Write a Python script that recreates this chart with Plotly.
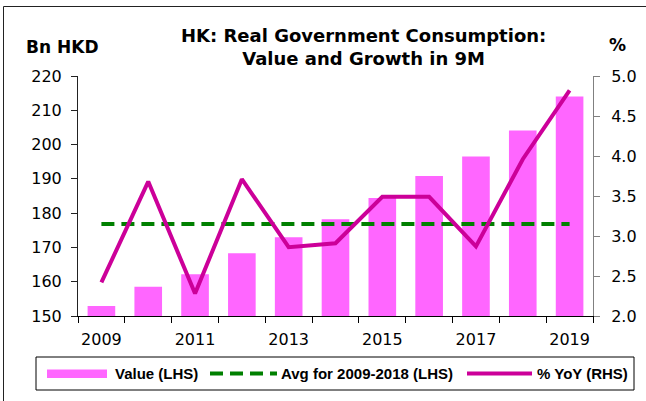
import plotly.graph_objects as go

years = [2009, 2010, 2011, 2012, 2013, 2014, 2015, 2016, 2017, 2018, 2019]
value_bn_hkd = [152.9, 158.5, 162.2, 168.3, 173.0, 178.2, 184.4, 190.8, 196.5, 204.1, 214.0]
avg_2009_2018 = [176.8] * 11
yoy_pct = [2.42, 3.68, 2.28, 3.71, 2.86, 2.91, 3.49, 3.49, 2.87, 3.96, 4.82]
xtick_labels = ["2009", "2011", "2013", "2015", "2017", "2019"]
series_names = ["Value (LHS)", "Avg for 2009-2018 (LHS)", "% YoY (RHS)"]

BAR_COLOR = "#FF66FF"
AVG_COLOR = "#008000"
YOY_COLOR = "#CC0099"
AVG_DASH = "13px,7px"

W, H = 646, 401
L, R, T, B = 78, 593, 76, 316

def px(x):
    return (x - L) / (R - L)

def py(y):
    return (B - y) / (B - T)

FONT = "DejaVu Sans"
LEG_FONT = "Liberation Sans"

fig = go.Figure()
fig.add_trace(go.Bar(
    x=years, y=value_bn_hkd, name=series_names[0], showlegend=False,
    marker=dict(color=BAR_COLOR, line=dict(width=0)),
))
fig.add_trace(go.Scatter(
    x=years, y=avg_2009_2018, name=series_names[1], mode="lines", showlegend=False,
    line=dict(color=AVG_COLOR, width=4, dash=AVG_DASH),
))
fig.add_trace(go.Scatter(
    x=years, y=yoy_pct, name=series_names[2], mode="lines", yaxis="y2", showlegend=False,
    line=dict(color=YOY_COLOR, width=4),
))

# legend (drawn as a boxed key below the plot)
leg_y = 373.5
shapes = [
    dict(type="rect", xref="paper", yref="paper", x0=px(36), x1=px(634), y0=py(357), y1=py(390),
         line=dict(color="black", width=1), fillcolor="white", layer="below"),
    dict(type="rect", xref="paper", yref="paper", x0=px(47), x1=px(107), y0=py(369.5), y1=py(378),
         line=dict(width=0), fillcolor=BAR_COLOR),
    dict(type="line", xref="paper", yref="paper", x0=px(210), x1=px(277), y0=py(leg_y), y1=py(leg_y),
         line=dict(color=AVG_COLOR, width=4, dash=AVG_DASH)),
    dict(type="line", xref="paper", yref="paper", x0=px(467), x1=px(532), y0=py(leg_y), y1=py(leg_y),
         line=dict(color=YOY_COLOR, width=4)),
    # outer frame
    dict(type="line", xref="paper", yref="paper", x0=px(3.5), x1=px(3.5), y0=py(6.5), y1=py(401),
         line=dict(color="#222222", width=1)),
    dict(type="line", xref="paper", yref="paper", x0=px(3.5), x1=px(646), y0=py(6.5), y1=py(6.5),
         line=dict(color="#222222", width=1)),
]

annotations = [
    dict(text="HK: Real Government Consumption:<br>Value and Growth in 9M",
         xref="paper", yref="paper", x=px(363), y=py(46.5), xanchor="center", yanchor="middle",
         showarrow=False, font=dict(family=FONT, size=18, color="black", weight="bold")),
    dict(text="Bn HKD", xref="paper", yref="paper", x=px(62), y=py(47),
         xanchor="center", yanchor="middle", showarrow=False,
         font=dict(family=FONT, size=17, color="black", weight="bold")),
    dict(text="%", xref="paper", yref="paper", x=px(617), y=py(45),
         xanchor="center", yanchor="middle", showarrow=False,
         font=dict(family=FONT, size=17, color="black", weight="bold")),
]
for name, x0 in zip(series_names, [113, 279, 535]):
    annotations.append(dict(
        text=name, xref="paper", yref="paper", x=px(x0), y=py(leg_y), xanchor="left",
        yanchor="middle", showarrow=False,
        font=dict(family=LEG_FONT, size=15, color="black", weight="bold")))

fig.update_layout(
    width=W, height=H,
    margin=dict(l=L, r=W - R, t=T, b=H - B, pad=0, autoexpand=False),
    paper_bgcolor="white", plot_bgcolor="white",
    bargap=0.41,
    font=dict(family=FONT, size=16, color="black"),
    showlegend=False,
    xaxis=dict(
        range=[2008.5, 2019.5], tickvals=[int(t) for t in xtick_labels], ticktext=xtick_labels,
        ticks="outside", ticklen=6, tickcolor="rgba(0,0,0,0)",
        showline=True, linecolor="black", linewidth=1, showgrid=False, zeroline=False,
        tickfont=dict(size=16), ticklabelstandoff=3,
        minor=dict(tickvals=[y - 0.5 for y in years] + [2019.5], ticks="outside",
                   ticklen=6, tickcolor="black", tickwidth=1, showgrid=False),
    ),
    yaxis=dict(
        range=[150, 220], dtick=10, ticks="outside", ticklen=6, tickcolor="#222222",
        showline=True, linecolor="#222222", linewidth=1, showgrid=False, zeroline=False,
        tickfont=dict(size=16), ticklabelstandoff=6,
    ),
    yaxis2=dict(
        range=[2.0, 5.0], dtick=0.5, tickformat=".1f", overlaying="y", side="right",
        ticks="outside", ticklen=6, tickcolor="#808080",
        showline=True, linecolor="#808080", linewidth=1, showgrid=False, zeroline=False,
        tickfont=dict(size=16), ticklabelstandoff=8,
    ),
    annotations=annotations,
    shapes=shapes,
)

fig.write_html("out.html",
               config={"displayModeBar": False},
               post_script="document.body.style.margin='0';document.body.style.padding='0';")
